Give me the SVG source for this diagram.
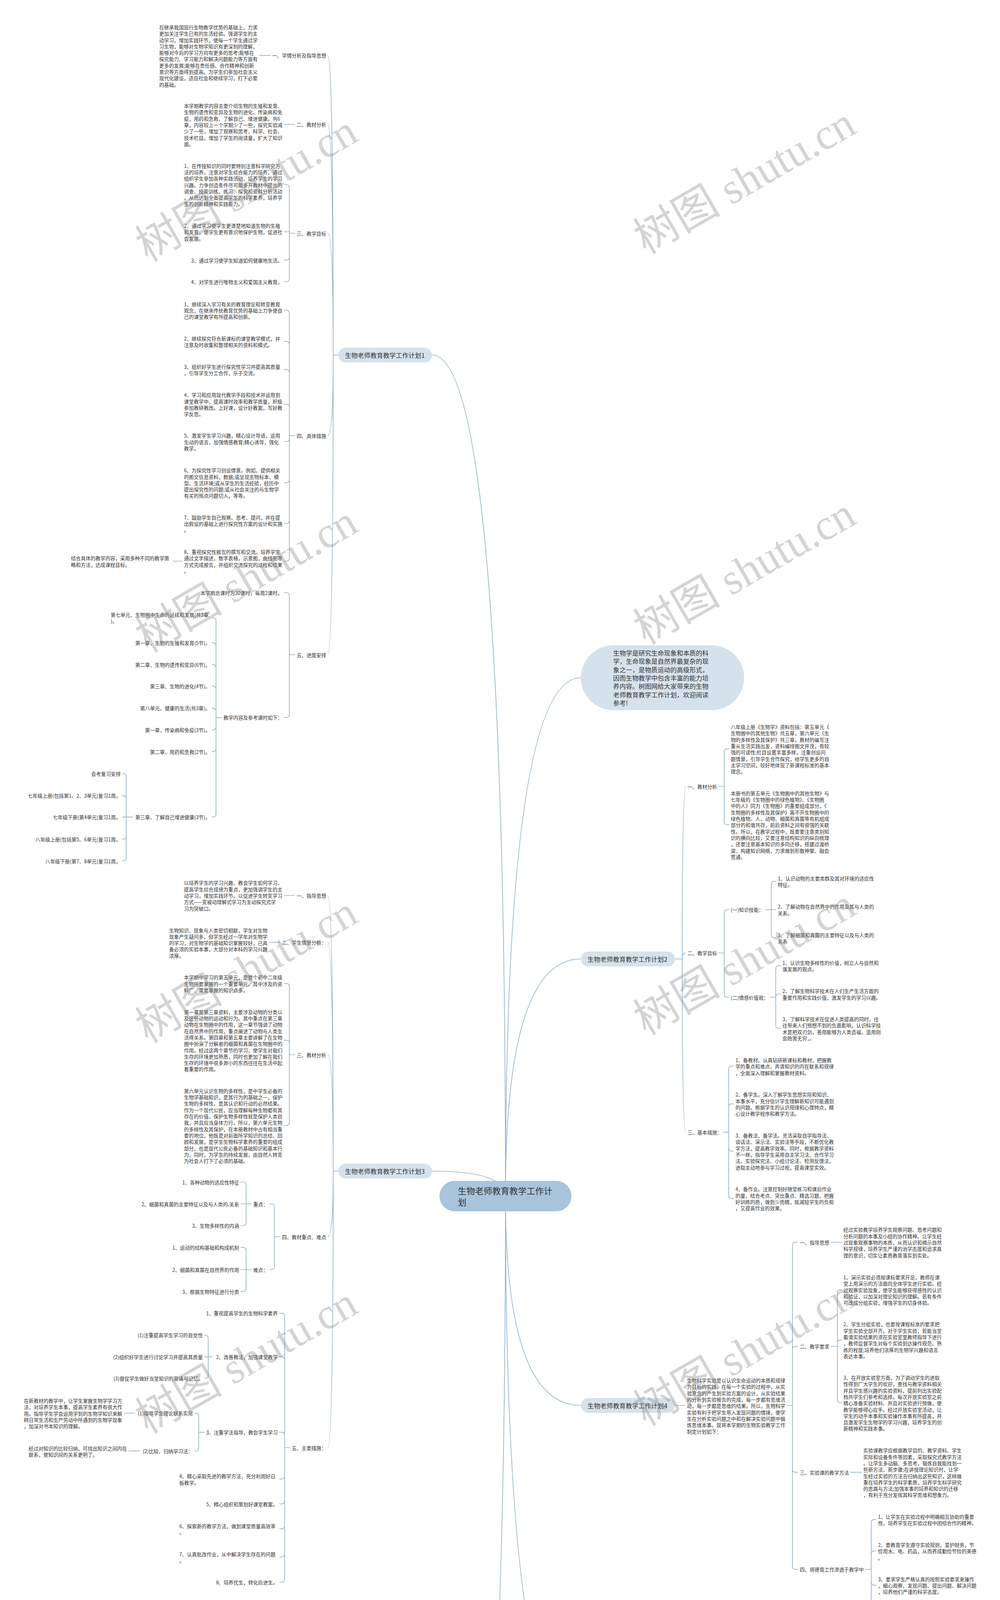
<svg xmlns="http://www.w3.org/2000/svg" width="2560" height="6561" viewBox="0 0 2560 6561">
<style>
.t{font-family:"Noto Sans CJK SC","Noto Sans",sans-serif;font-size:12.6px;fill:#333;dominant-baseline:central}
.e{text-anchor:end}
.l1{font-size:16.3px}
.rt{font-size:22px}
.c{fill:none;stroke:#8fb1cb;stroke-width:1.7}
.b{fill:#d6e2eb}
.rb{fill:#a9c4db}
.wm{font-family:"Liberation Serif","Noto Sans CJK SC",serif;font-size:112px;fill:#888;fill-opacity:.36;text-anchor:middle}
</style>
<rect x="0" y="0" width="2560" height="6561" fill="#fff"/>
<g id="connectors">
<path class="c" d="M1294 3062Q1294 909 1106 909M1294 3062Q1294 2998 1106 2998M1294 3062Q1294 5213 1106 5213M1294 3062Q1294 1735 1487 1735M1294 3062Q1294 2455 1487 2455M1294 3062Q1294 3598 1487 3598M1294 3062Q1294 4442 1487 4442"/>
<path class="c" d="M866 909H853M853 909Q853 141.8 839 141.8M853 909Q853 318.6 839 318.6M853 909Q853 597 839 597M853 909Q853 1115 839 1115M853 909Q853 1676 839 1676"/>
<path class="c" d="M693 141.8H664M755 318.6H727M756 597H740.7M740.7 597V480.5Q740.7 472.5 732.7 472.5H727M740.7 597V593.3H727M740.7 597V658Q740.7 666 732.7 666H727M740.7 597V713.5Q740.7 721.5 732.7 721.5H727"/>
<path class="c" d="M756 1115H740.7M740.7 1115V802.1Q740.7 794.1 732.7 794.1H727M740.7 1115V881.8Q740.7 873.8 732.7 873.8H727M740.7 1115V954.2Q740.7 946.2 732.7 946.2H727M740.7 1115V1042.8Q740.7 1034.8 732.7 1034.8H727M740.7 1115V1122.5Q740.7 1130.5 732.7 1130.5H727M740.7 1115V1227.8Q740.7 1235.8 732.7 1235.8H727M740.7 1115V1332Q740.7 1340 732.7 1340H727M740.7 1115V1428.5Q740.7 1436.5 732.7 1436.5H727M466 1436.5H442"/>
<path class="c" d="M756 1676H740.7M740.7 1676V1525Q740.7 1517 732.7 1517H727M740.7 1676V1828.8Q740.7 1836.8 732.7 1836.8H727M568 1836.8H553M553 1836.8V1589Q553 1581 545 1581H542M553 1836.8V1653Q553 1645 545 1645H542M553 1836.8V1709.4Q553 1701.4 545 1701.4H542M553 1836.8V1764.5Q553 1756.5 545 1756.5H542M553 1836.8V1820.7Q553 1812.7 545 1812.7H542M553 1836.8V1860.5Q553 1868.5 545 1868.5H542M553 1836.8V1916.3Q553 1924.3 545 1924.3H542M553 1836.8V2083.7Q553 2091.7 545 2091.7H542"/>
<path class="c" d="M341 2091.7H323M323 2091.7V1988Q323 1980 315 1980H313M323 2091.7V2044.8Q323 2036.8 315 2036.8H313M323 2091.7H313M323 2091.7V2140.4Q323 2148.4 315 2148.4H313M323 2091.7V2196Q323 2204 315 2204H313"/>
<path class="c" d="M866 2998H853M853 2998Q853 2292.5 839 2292.5M853 2998Q853 2412.4 839 2412.4M853 2998Q853 2700 839 2700M853 2998Q853 3166 839 3166M853 2998Q853 3706 839 3706"/>
<path class="c" d="M755 2292.5H727M718 2412.4H689M756 2700H740.7M740.7 2700V2525.6Q740.7 2517.6 732.7 2517.6H727M740.7 2700V2671Q740.7 2663 732.7 2663H727M740.7 2700V2873.5Q740.7 2881.5 732.7 2881.5H727"/>
<path class="c" d="M718 3166H702.6M702.6 3166V3090Q702.6 3082 694.6 3082H690M702.6 3166V3242Q702.6 3250 694.6 3250H690M644 3082H630M630 3082V3034Q630 3026 622 3026H616M630 3082H616M630 3082V3129.5Q630 3137.5 622 3137.5H616M644 3250H630M630 3250V3201.4Q630 3193.4 622 3193.4H616M630 3250H616M630 3250V3298.3Q630 3306.3 622 3306.3H616"/>
<path class="c" d="M743 3706H728.6M728.6 3706V3369.7Q728.6 3361.7 720.6 3361.7H715M728.6 3706V3481.3Q728.6 3473.3 720.6 3473.3H715M728.6 3706V3674.6Q728.6 3666.6 720.6 3666.6H715M728.6 3706V3778.4Q728.6 3786.4 720.6 3786.4H715M728.6 3706V3842Q728.6 3850 720.6 3850H715M728.6 3706V3905.9Q728.6 3913.9 720.6 3913.9H715M728.6 3706V3978Q728.6 3986 720.6 3986H715M728.6 3706V4042.5Q728.6 4050.5 720.6 4050.5H715"/>
<path class="c" d="M544 3473.3H533M533 3473.3V3425.9Q533 3417.9 525 3417.9H523M533 3473.3H523M533 3473.3V3520.8Q533 3528.8 525 3528.8H523M524 3666.6H508.7M508.7 3666.6V3625.5Q508.7 3617.5 500.7 3617.5H498M508.7 3666.6V3706.4Q508.7 3714.4 500.7 3714.4H498M346 3617.5H317M358 3714.4H329"/>
<path class="c" d="M866 5213H853M853 5213Q853 4132.1 839 4132.1M853 5213Q853 4548.3 839 4548.3M853 5213Q853 5111.2 839 5111.2M853 5213Q853 5430 839 5430M853 5213Q853 5912.6 839 5912.6M853 5213Q853 6296.5 839 6296.5"/>
<path class="c" d="M756 4548.3H740.7M740.7 4548.3V4227.2Q740.7 4219.2 732.7 4219.2H727M740.7 4548.3V4415.4Q740.7 4407.4 732.7 4407.4H727M740.7 4548.3V4659.6Q740.7 4667.6 732.7 4667.6H727M740.7 4548.3V4868.8Q740.7 4876.8 732.7 4876.8H727"/>
<path class="c" d="M657 4407.4H640.8M640.8 4407.4V4299.2Q640.8 4291.2 632.8 4291.2H629M640.8 4407.4V4379.3Q640.8 4371.3 632.8 4371.3H629M640.8 4407.4V4444.5Q640.8 4452.5 632.8 4452.5H629M640.8 4407.4V4516Q640.8 4524 632.8 4524H629M657 4667.6H640.8M640.8 4667.6V4596.5Q640.8 4588.5 632.8 4588.5H629M640.8 4667.6H629M640.8 4667.6V4740.6Q640.8 4748.6 632.8 4748.6H629M606 4876.8H591M591 4876.8V4820.9Q591 4812.9 583 4812.9H579M591 4876.8V4934Q591 4942 583 4942H579"/>
<path class="c" d="M756 5111.2H727M756 5430H740.7M740.7 5430V5240.1Q740.7 5232.1 732.7 5232.1H727M740.7 5430V5401.3Q740.7 5393.3 732.7 5393.3H727M740.7 5430V5620.5Q740.7 5628.5 732.7 5628.5H727"/>
<path class="c" d="M718 5912.6H705M705 5912.6V5837Q705 5829 697 5829H692M705 5912.6V5988.6Q705 5996.6 697 5996.6H692M644 5829H629.4M629.4 5829V5781Q629.4 5773 621.4 5773H616M629.4 5829H616M629.4 5829V5876.9Q629.4 5884.9 621.4 5884.9H616M644 5996.6H629.4M629.4 5996.6V5948.7Q629.4 5940.7 621.4 5940.7H616M629.4 5996.6H616M629.4 5996.6V6044.4Q629.4 6052.4 621.4 6052.4H616"/>
<path class="c" d="M756 6296.5H740.7M740.7 6296.5V6116.7Q740.7 6108.7 732.7 6108.7H727M740.7 6296.5V6172Q740.7 6164 732.7 6164H727M740.7 6296.5V6236.5Q740.7 6228.5 732.7 6228.5H727M740.7 6296.5V6300.3H727M740.7 6296.5V6356Q740.7 6364 732.7 6364H727M740.7 6296.5V6411.8Q740.7 6419.8 732.7 6419.8H727M740.7 6296.5V6475.8Q740.7 6483.8 732.7 6483.8H727"/>
<path class="c" d="M1728 2455H1746.5M1746.5 2455Q1746.5 2013 1756 2013M1746.5 2455Q1746.5 2439.5 1756 2439.5M1746.5 2455Q1746.5 2898.3 1756 2898.3"/>
<path class="c" d="M1839 2013H1854M1854 2013V1925.2Q1854 1917.2 1862 1917.2H1867M1854 2013V2103.3Q1854 2111.3 1862 2111.3H1867M1839 2439.5H1854M1854 2439.5V2336.7Q1854 2328.7 1862 2328.7H1867M1854 2439.5V2545Q1854 2553 1862 2553H1867"/>
<path class="c" d="M1958 2328.7H1974.5M1974.5 2328.7V2264.2Q1974.5 2256.2 1982.5 2256.2H1987M1974.5 2328.7H1987M1974.5 2328.7V2392.7Q1974.5 2400.7 1982.5 2400.7H1987M1971 2553H1985.8M1985.8 2553V2480.2Q1985.8 2472.2 1993.8 2472.2H1999M1985.8 2553V2552.5Q1985.8 2544.5 1993.8 2544.5H1999M1985.8 2553V2624.4Q1985.8 2632.4 1993.8 2632.4H1999"/>
<path class="c" d="M1851 2898.3H1865.4M1865.4 2898.3V2737.2Q1865.4 2729.2 1873.4 2729.2H1878M1865.4 2898.3V2833.8Q1865.4 2825.8 1873.4 2825.8H1878M1865.4 2898.3V2938.8Q1865.4 2946.8 1873.4 2946.8H1878M1865.4 2898.3V3059.8Q1865.4 3067.8 1873.4 3067.8H1878"/>
<path class="c" d="M1728 3598H1754M2014 3598H2028.7M2028.7 3598V3188Q2028.7 3180 2036.7 3180H2043M2028.7 3598V3454.6Q2028.7 3446.6 2036.7 3446.6H2043M2028.7 3598V3761.2Q2028.7 3769.2 2036.7 3769.2H2043M2028.7 3598V4009.6Q2028.7 4017.6 2036.7 4017.6H2043"/>
<path class="c" d="M2127 3180H2155M2127 3446.6H2143.8M2143.8 3446.6V3309.6Q2143.8 3301.6 2151.8 3301.6H2155M2143.8 3446.6V3438.2Q2143.8 3430.2 2151.8 3430.2H2155M2143.8 3446.6V3583.2Q2143.8 3591.2 2151.8 3591.2H2155M2177 3769.2H2206"/>
<path class="c" d="M2214 4017.6H2230.4M2230.4 4017.6V3897.9Q2230.4 3889.9 2238.4 3889.9H2243M2230.4 4017.6V3978.3Q2230.4 3970.3 2238.4 3970.3H2243M2230.4 4017.6V4050.1Q2230.4 4058.1 2238.4 4058.1H2243M2230.4 4017.6V4139.1Q2230.4 4147.1 2238.4 4147.1H2243"/>
<path class="c" d="M1798 4442H1812.7M1812.7 4442Q1812.7 4219 1825 4219M1812.7 4442Q1812.7 4274.8 1825 4274.8M1812.7 4442Q1812.7 4331 1825 4331M1812.7 4442Q1812.7 4386.6 1825 4386.6M1812.7 4442H1825M1812.7 4442Q1812.7 4498.5 1825 4498.5M1812.7 4442Q1812.7 4554 1825 4554M1812.7 4442Q1812.7 4609.6 1825 4609.6M1812.7 4442Q1812.7 4665.9 1825 4665.9"/>
</g>
<g id="root"><rect class="rb" x="1125" y="3023" width="338" height="78" rx="39"/><text class="t rt" x="1172" y="3047"><tspan x="1172">生物老师教育教学工作计</tspan><tspan x="1172" dy="29">划</tspan></text></g>
<g id="intro"><rect class="b" x="1487" y="1652" width="418" height="166" rx="83"/><text class="t l1" x="1569.6" y="1670.7"><tspan x="1569.6">生物学是研究生命现象和本质的科</tspan><tspan x="1569.6" dy="21.4">学，生命现象是自然界最复杂的现</tspan><tspan x="1569.6" dy="21.4">象之一，是物质运动的高级形式，</tspan><tspan x="1569.6" dy="21.4">因而生物教学中包含丰富的能力培</tspan><tspan x="1569.6" dy="21.4">养内容。树图网给大家带来的生物</tspan><tspan x="1569.6" dy="21.4">老师教育教学工作计划，欢迎阅读</tspan><tspan x="1569.6" dy="21.4">参考!</tspan></text></g>
<g id="plan1"><rect class="b" x="866" y="890" width="240" height="38" rx="19"/><text class="t l1" x="883" y="909">生物老师教育教学工作计划1</text></g>
<g id="p1s1"><text class="t e" x="835" y="141.8">一、学情分析及指导思想</text></g>
<g id="p1s1t"><text class="t" y="68.9"><tspan x="407.5">在继承我国现行生物教学优势的基础上，力求</tspan><tspan x="407.5" dy="16.3">更加关注学生已有的生活经验。强调学生的主</tspan><tspan x="407.5" dy="16.3">动学习，增加实践环节，使每一个学生通过学</tspan><tspan x="407.5" dy="16.3">习生物，能够对生物学知识有更深刻的理解，</tspan><tspan x="407.5" dy="16.3">能够对今后的学习方向有更多的思考;能够在</tspan><tspan x="407.5" dy="16.3">探究能力、学习能力和解决问题能力等方面有</tspan><tspan x="407.5" dy="16.3">更多的发展;能够在责任感、合作精神和创新</tspan><tspan x="407.5" dy="16.3">意识等方面得到提高。为学生们参加社会主义</tspan><tspan x="407.5" dy="16.3">现代化建设，适应社会和继续学习，打下必要</tspan><tspan x="407.5" dy="16.3">的基础。</tspan></text></g>
<g id="p1s2"><text class="t e" x="835" y="318.6">二、教材分析</text></g>
<g id="p1s2t"><text class="t" y="270"><tspan x="471">本学期教学内容主要介绍生物的生殖和发育、</tspan><tspan x="471" dy="16.3">生物的遗传和变异及生物的进化、传染病和免</tspan><tspan x="471" dy="16.3">疫，用药和急救、了解自己、增进健康。共6</tspan><tspan x="471" dy="16.3">章，内容较上一个学期少了一些，探究实验减</tspan><tspan x="471" dy="16.3">少了一些，增加了观察和思考，科学、社会、</tspan><tspan x="471" dy="16.3">技术栏目。增加了学生的阅读量，扩大了知识</tspan><tspan x="471" dy="16.3">面。</tspan></text></g>
<g id="p1s3"><text class="t e" x="835" y="597">三、教学目标</text></g>
<g id="p1s3a"><text class="t" y="423.6"><tspan x="471">1、在传授知识的同时要特别注意科学研究方</tspan><tspan x="471" dy="16.3">法的培养，注意对学生综合能力的培养，通过</tspan><tspan x="471" dy="16.3">组织学生参加各种实践活动，培养学生的学习</tspan><tspan x="471" dy="16.3">兴趣。力争创造条件尽可能多开教材中提出的</tspan><tspan x="471" dy="16.3">调查、技能训练、练习、探究和资料分析活动</tspan><tspan x="471" dy="16.3">。从而达到全面提高学生的科学素养，培养学</tspan><tspan x="471" dy="16.3">生的创新精神和实践能力。</tspan></text></g>
<g id="p1s3b"><text class="t" y="577"><tspan x="471">2、通过学习使学生更清楚地知道生物的生殖</tspan><tspan x="471" dy="16.3">和发育，使学生更有意识地保护生物，促进社</tspan><tspan x="471" dy="16.3">会发展。</tspan></text></g>
<g id="p1s3c"><text class="t e" x="723" y="666">3、通过学习使学生知道如何健康地生活。</text></g>
<g id="p1s3d"><text class="t e" x="723" y="721.5">4、对学生进行唯物主义和爱国主义教育。</text></g>
<g id="p1s4"><text class="t e" x="835" y="1115">四、具体措施</text></g>
<g id="p1s4a"><text class="t" y="777.8"><tspan x="471">1、继续深入学习有关的教育理论和转变教育</tspan><tspan x="471" dy="16.3">观念，在继承传统教育优势的基础上力争使自</tspan><tspan x="471" dy="16.3">己的课堂教学有所提高和创新。</tspan></text></g>
<g id="p1s4b"><text class="t" y="865.6"><tspan x="471">2、继续探究符合新课标的课堂教学模式，并</tspan><tspan x="471" dy="16.3">注意及时收集和整理相关的资料和模式。</tspan></text></g>
<g id="p1s4c"><text class="t" y="938"><tspan x="471">3、组织好学生进行探究性学习并提高其质量</tspan><tspan x="471" dy="16.3">，引导学生分工合作，乐于交流。</tspan></text></g>
<g id="p1s4d"><text class="t" y="1010.3"><tspan x="471">4、学习和应用现代教学手段和技术并运用到</tspan><tspan x="471" dy="16.3">课堂教学中，提高课时效率和教学质量，积极</tspan><tspan x="471" dy="16.3">参加教研教改。上好课，设计好教案，写好教</tspan><tspan x="471" dy="16.3">学反思。</tspan></text></g>
<g id="p1s4e"><text class="t" y="1114.2"><tspan x="471">5、激发学生学习兴趣，精心设计导语，运用</tspan><tspan x="471" dy="16.3">生动的语言，加强情感教育;精心诱导，强化</tspan><tspan x="471" dy="16.3">教学。</tspan></text></g>
<g id="p1s4f"><text class="t" y="1203.2"><tspan x="471">6、为探究性学习创设情景。例如，提供相关</tspan><tspan x="471" dy="16.3">的图文信息资料，数据;或呈现生物标本、模</tspan><tspan x="471" dy="16.3">型、生活环境;或从学生的生活经验，经历中</tspan><tspan x="471" dy="16.3">提出探究性的问题;或从社会关注的与生物学</tspan><tspan x="471" dy="16.3">有关的热点问题切入，等等。</tspan></text></g>
<g id="p1s4g"><text class="t" y="1323.7"><tspan x="471">7、鼓励学生自己观察、思考、提问，并在提</tspan><tspan x="471" dy="16.3">出假设的基础上进行探究性方案的设计和实施</tspan><tspan x="471" dy="16.3">。</tspan></text></g>
<g id="p1s4h"><text class="t" y="1412"><tspan x="471">8、重视探究性报告的撰写和交流。培养学生</tspan><tspan x="471" dy="16.3">通过文字描述，数字表格，示意图，曲线图等</tspan><tspan x="471" dy="16.3">方式完成报告，并组织交流探究的过程和结果</tspan><tspan x="471" dy="16.3">。</tspan></text></g>
<g id="p1s4h1"><text class="t" y="1428.2"><tspan x="181.5">结合具体的教学内容，采用多种不同的教学策</tspan><tspan x="181.5" dy="16.3">略和方法，达成课程目标。</tspan></text></g>
<g id="p1s5"><text class="t e" x="835" y="1676">五、进度安排</text></g>
<g id="p1s5a"><text class="t e" x="723" y="1517">本学期总课时为30课时，每周2课时。</text></g>
<g id="p1s5b"><text class="t e" x="723" y="1836.8">教学内容及参考课时如下：</text></g>
<g id="p1s5b1"><text class="t" y="1572.8"><tspan x="283.3">第七单元、生物圈中生命的延续和发展(共3章</tspan><tspan x="283.3" dy="16.3">)。</tspan></text></g>
<g id="p1s5b2"><text class="t e" x="538" y="1645">第一章、生物的生殖和发育(5节)。</text></g>
<g id="p1s5b3"><text class="t e" x="538" y="1701.4">第二章、生物的遗传和变异(6节)。</text></g>
<g id="p1s5b4"><text class="t e" x="538" y="1756.5">第三章、生物的进化(4节)。</text></g>
<g id="p1s5b5"><text class="t e" x="538" y="1812.7">第八单元、健康的生活(共3章)。</text></g>
<g id="p1s5b6"><text class="t e" x="538" y="1868.5">第一章、传染病和免疫(3节)。</text></g>
<g id="p1s5b7"><text class="t e" x="538" y="1924.3">第二章、用药和急救(2节)。</text></g>
<g id="p1s5b8"><text class="t e" x="538" y="2091.7">第三章、了解自己增进健康(3节)。</text></g>
<g id="p1s5c1"><text class="t e" x="309" y="1980">会考复习安排</text></g>
<g id="p1s5c2"><text class="t e" x="309" y="2036.8">七年级上册(包括第1、2、3单元)复习1周。</text></g>
<g id="p1s5c3"><text class="t e" x="309" y="2091.7">七年级下册(第4单元)复习1周。</text></g>
<g id="p1s5c4"><text class="t e" x="309" y="2148.4">八年级上册(包括第5、6单元)复习1周。</text></g>
<g id="p1s5c5"><text class="t e" x="309" y="2204">八年级下册(第7、8单元)复习1周。</text></g>
<g id="plan3"><rect class="b" x="866" y="2979" width="240" height="38" rx="19"/><text class="t l1" x="883" y="2998">生物老师教育教学工作计划3</text></g>
<g id="p3s1"><text class="t e" x="835" y="2292.5">一、指导思想</text></g>
<g id="p3s1t"><text class="t" y="2259.3"><tspan x="471">以培养学生的学习兴趣、教会学生如何学习、</tspan><tspan x="471" dy="16.3">提高学生综合成绩为重点，更加强调学生的主</tspan><tspan x="471" dy="16.3">动学习，增加实践环节。以促进学生转变学习</tspan><tspan x="471" dy="16.3">方式——变被动理解式学习为主动探究式学</tspan><tspan x="471" dy="16.3">习为突破口。</tspan></text></g>
<g id="p3s2"><text class="t e" x="835" y="2412.4">二、学生情景分析：</text></g>
<g id="p3s2t"><text class="t" y="2380.5"><tspan x="433">生物知识、现象与人类密切相联，学生对生物</tspan><tspan x="433" dy="16.3">现象产生疑问多，但学生经过一学年对生物学</tspan><tspan x="433" dy="16.3">的学习，对生物学的基础知识掌握较好，已具</tspan><tspan x="433" dy="16.3">备必须的实验本事，大部分对本科的学习兴趣</tspan><tspan x="433" dy="16.3">浓厚。</tspan></text></g>
<g id="p3s3"><text class="t e" x="835" y="2700">三、教材分析</text></g>
<g id="p3s3a"><text class="t" y="2501.3"><tspan x="471">本学期中学习的第五单元，是整个初中二年级</tspan><tspan x="471" dy="16.3">生物所要掌握的一个重要单元。其中涉及的资</tspan><tspan x="471" dy="16.3">料广，需要掌握的知识点多。</tspan></text></g>
<g id="p3s3b"><text class="t" y="2589.7"><tspan x="471">第一章至第三章资料，主要涉及动物的分类以</tspan><tspan x="471" dy="16.3">及这些动物的运动和行为。其中重点在第三章</tspan><tspan x="471" dy="16.3">动物在生物圈中的作用，这一章节强调了动物</tspan><tspan x="471" dy="16.3">在自然界中的作用，重点阐述了动物与人类生</tspan><tspan x="471" dy="16.3">活得关系。第四章和第五章主要讲解了在生物</tspan><tspan x="471" dy="16.3">圈中扮演了分解者的细菌和真菌在生物圈中的</tspan><tspan x="471" dy="16.3">作用。经过这两个章节的学习，使学生对我们</tspan><tspan x="471" dy="16.3">生存的环境更加熟悉，同时也更加了解在我们</tspan><tspan x="471" dy="16.3">生存的环境中很多渺小的东西往往在生活中起</tspan><tspan x="471" dy="16.3">着重要的作用。</tspan></text></g>
<g id="p3s3c"><text class="t" y="2791.8"><tspan x="471">第六单元认识生物的多样性，是中学生必备的</tspan><tspan x="471" dy="16.3">生物学基础知识，是其行为的基础之一，保护</tspan><tspan x="471" dy="16.3">生物的多样性，是其认识和行动的必然结果。</tspan><tspan x="471" dy="16.3">作为一个现代公民，应当理解每种生物都有其</tspan><tspan x="471" dy="16.3">存在的价值，保护生物多样性就是保护人类自</tspan><tspan x="471" dy="16.3">我，并且应当身体力行。所以，第六单元生物</tspan><tspan x="471" dy="16.3">的多样性及其保护，在本册教材中占有相当重</tspan><tspan x="471" dy="16.3">要的地位，他既是对前面所学知识的总结、回</tspan><tspan x="471" dy="16.3">顾和发展，是学生生物科学素养的重要的组成</tspan><tspan x="471" dy="16.3">部分，也是现代公民必备的基础知识和基本行</tspan><tspan x="471" dy="16.3">为，同时，为学生的持续发展，由自然人转变</tspan><tspan x="471" dy="16.3">为社会人打下了必须的基础。</tspan></text></g>
<g id="p3s4"><text class="t e" x="835" y="3166">四、教材重点、难点</text></g>
<g id="p3s4a"><text class="t e" x="686" y="3082">重点：</text></g>
<g id="p3s4a1"><text class="t e" x="612" y="3026">1、各种动物的适应性特征</text></g>
<g id="p3s4a2"><text class="t e" x="612" y="3082">2、细菌和真菌的主要特征以及与人类的.关系</text></g>
<g id="p3s4a3"><text class="t e" x="612" y="3137.5">3、生物多样性的内涵</text></g>
<g id="p3s4b"><text class="t e" x="686" y="3250">难点：</text></g>
<g id="p3s4b1"><text class="t e" x="612" y="3193.4">1、运动的结构基础和构成机制</text></g>
<g id="p3s4b2"><text class="t e" x="612" y="3250">2、细菌和真菌在自然界的作用</text></g>
<g id="p3s4b3"><text class="t e" x="612" y="3306.3">3、根据生物特征进行分类</text></g>
<g id="p3s5"><text class="t e" x="835" y="3706">五、主要措施：</text></g>
<g id="p3s5a"><text class="t e" x="711" y="3361.7">1、重视提高学生的生物科学素养</text></g>
<g id="p3s5b"><text class="t e" x="711" y="3473.3">2、改善教法，加强课堂教学</text></g>
<g id="p3s5b1"><text class="t e" x="519" y="3417.9">(1)注重提高学生学习的自觉性</text></g>
<g id="p3s5b2"><text class="t e" x="519" y="3473.3">(2)组织好学生进行讨论学习并提高其质量</text></g>
<g id="p3s5b3"><text class="t e" x="520" y="3528.8">(3)督促学生做好当堂知识的背诵与记忆。</text></g>
<g id="p3s5c"><text class="t e" x="711" y="3666.6">3、注重学法指导，教会学生学习</text></g>
<g id="p3s5c1"><text class="t e" x="494" y="3617.5">(1)指导学生理论联系实际</text></g>
<g id="p3s5c1t"><text class="t" y="3585"><tspan x="61">在新教材的教学中，让学生掌握生物学学习方</tspan><tspan x="61" dy="16.3">法，对培养学生本事，提高学生素养有很大作</tspan><tspan x="61" dy="16.3">用。指导学生学会运用学到的生物学知识来解</tspan><tspan x="61" dy="16.3">释日常生活和生产劳动中所遇到的生物学现象</tspan><tspan x="61" dy="16.3">，加深对书本知识的理解。</tspan></text></g>
<g id="p3s5c2"><text class="t e" x="494" y="3714.4">(2)比较、归纳学习法：</text></g>
<g id="p3s5c2t"><text class="t" y="3706.7"><tspan x="73.3">经过对知识的比较归纳，可找出知识之间内在</tspan><tspan x="73.3" dy="16.3">联系，使知识间的关系更明了。</tspan></text></g>
<g id="p3s5d"><text class="t" y="3778.2"><tspan x="459">4、精心采取先进的教学方法，充分利用好白</tspan><tspan x="459" dy="16.3">板教学。</tspan></text></g>
<g id="p3s5e"><text class="t e" x="711" y="3850">5、精心组织和策划好课堂教案。</text></g>
<g id="p3s5f"><text class="t" y="3905.7"><tspan x="459">6、探索新的教学方法，做到课堂质量高效率</tspan><tspan x="459" dy="16.3">。</tspan></text></g>
<g id="p3s5g"><text class="t" y="3977.8"><tspan x="459">7、认真批改作业，从中解决学生存在的问题</tspan><tspan x="459" dy="16.3">。</tspan></text></g>
<g id="p3s5h"><text class="t e" x="711" y="4050.5">8、培养优生，转化后进生。</text></g>
<g id="plan5"><rect class="b" x="866" y="5194" width="240" height="38" rx="19"/><text class="t l1" x="883" y="5213">生物老师教育教学工作计划5</text></g>
<g id="p5s0"><text class="t" y="4107.7"><tspan x="583.2">又是一个新学期的开始，这个学期我担任初二</tspan><tspan x="583.2" dy="16.3">两个班的生物教学任务，为顺利完成本学期的</tspan><tspan x="583.2" dy="16.3">教学工作，并取得良好的成绩，我根据初二年</tspan><tspan x="583.2" dy="16.3">级生物学科的特点，特制订计划如下</tspan></text></g>
<g id="p5s1"><text class="t e" x="835" y="4548.3">一、教学目标</text></g>
<g id="p5s1a"><text class="t" y="4211"><tspan x="471">经过本学期的学习，学生将在以下几方面得到</tspan><tspan x="471" dy="16.3">发展：</tspan></text></g>
<g id="p5s1b"><text class="t e" x="723" y="4407.4">知识目标：</text></g>
<g id="p5s1b1"><text class="t" y="4283"><tspan x="371">(1)认识动物的主要类群及其对环境的适应性</tspan><tspan x="371" dy="16.3">特征。</tspan></text></g>
<g id="p5s1b2"><text class="t" y="4355"><tspan x="371">(2)明白动物的行为大多是经过运动来完成的</tspan><tspan x="371" dy="16.3">，了解动物在自然界中的作用及其与人类的关</tspan><tspan x="371" dy="16.3">系，它们的行为有密切的联系。</tspan></text></g>
<g id="p5s1b3"><text class="t" y="4444.4"><tspan x="371">(3)获得关于细菌和真菌的主要特征以及与人</tspan><tspan x="371" dy="16.3">类的关系的知识。</tspan></text></g>
<g id="p5s1b4"><text class="t" y="4515.8"><tspan x="371">(4)经过活动体验生物的分类是根据不一样生</tspan><tspan x="371" dy="16.3">物的特征上的相似程度来进行的。</tspan></text></g>
<g id="p5s1c"><text class="t e" x="723" y="4667.6">本事目标：</text></g>
<g id="p5s1c1"><text class="t e" x="626" y="4588.5">(1)增强动手本事和实验设计本事。</text></g>
<g id="p5s1c2"><text class="t" y="4643.4"><tspan x="372.4">(2)培养学生的实践本事：如进行"饲养和观察</tspan><tspan x="372.4" dy="16.3">蚯蚓"、"调查动物在人们生活中的作用"、"检</tspan><tspan x="372.4" dy="16.3">测不一样环境中的细菌和真菌"、"制作甜酒"</tspan><tspan x="372.4" dy="16.3">等实践性较强的活动。</tspan></text></g>
<g id="p5s1c3"><text class="t e" x="626" y="4748.6">(3)培养学生收集和处理信息的本事。</text></g>
<g id="p5s1d"><text class="t e" x="723" y="4876.8">情感态度与价值观：</text></g>
<g id="p5s1d1"><text class="t" y="4804.7"><tspan x="322.7">(1)认识生物多样性的价值，更好地树立人与</tspan><tspan x="322.7" dy="16.3">自然和谐发展的观点。</tspan></text></g>
<g id="p5s1d2"><text class="t" y="4876.8"><tspan x="321.5">(2)认识科学经过技术转化为人们改善生产和</tspan><tspan x="321.5" dy="16.3">生活方式的手段，发展生产力，促进社会物质</tspan><tspan x="321.5" dy="16.3">礼貌的提高，又具有实践价值。科学技术在促</tspan><tspan x="321.5" dy="16.3">进人类提高的同时，往往带来人们预想不到的</tspan><tspan x="321.5" dy="16.3">负面影响，所以，其实践价值就相当于一枚硬</tspan><tspan x="321.5" dy="16.3">币的正反两面，具有两面性。此外，尽管社会</tspan><tspan x="321.5" dy="16.3">在走向科技化，科技也在社会化，可是，科学</tspan><tspan x="321.5" dy="16.3">始终不是万能的，人类社会面临的所有问题，</tspan><tspan x="321.5" dy="16.3">并非都能依_科学来解决。</tspan></text></g>
<g id="p5s2"><text class="t e" x="835" y="5111.2">二、学情分析</text></g>
<g id="p5s2t"><text class="t" y="5062.8"><tspan x="471">经过初一的学习，多数学生对生物这门课比较</tspan><tspan x="471" dy="16.3">有兴趣，其中也存在着问题：班中成绩差别悬</tspan><tspan x="471" dy="16.3">殊，存在两极分化现象，有的班级后进生比较</tspan><tspan x="471" dy="16.3">多。针对以上问题，我要对学生加以鼓励和引</tspan><tspan x="471" dy="16.3">导，争取再上一个新台阶，以期待能取得更好</tspan><tspan x="471" dy="16.3">的成绩，做好学生的工作，因材施教，使他们</tspan><tspan x="471" dy="16.3">在各自原有的基础上不断发展提高。</tspan></text></g>
<g id="p5s3"><text class="t e" x="835" y="5430">三、教材分析</text></g>
<g id="p5s3a"><text class="t" y="5215.8"><tspan x="471">本学期中学习的第五单元，是整个初中二年级</tspan><tspan x="471" dy="16.3">生物所要掌握的一个重要单元。其中涉及的资</tspan><tspan x="471" dy="16.3">料广，需要掌握的知识点多。</tspan></text></g>
<g id="p5s3b"><text class="t" y="5303.6"><tspan x="471">第一章至第三章资料，主要涉及动物的分类，</tspan><tspan x="471" dy="16.3">让学生区别那些是水中生活的动物、陆地上生</tspan><tspan x="471" dy="16.3">活的动物、空中飞行的动物，以及这些动物的</tspan><tspan x="471" dy="16.3">运动和行为。其中重点在第三章动物在生物圈</tspan><tspan x="471" dy="16.3">中的作用，这一章节强调了动物在自然界中的</tspan><tspan x="471" dy="16.3">作用，重点阐述了动物与人类生活得关系。第</tspan><tspan x="471" dy="16.3">四章和第五章主要讲解了在生物圈中扮演了分</tspan><tspan x="471" dy="16.3">解者的细菌和真菌在生物圈中的作用。经过这</tspan><tspan x="471" dy="16.3">两个章节的学习，使学生对我们生存的环境更</tspan><tspan x="471" dy="16.3">加熟悉，同时也更加了解在我们生存的环境中</tspan><tspan x="471" dy="16.3">很多渺小的东西往往在生活中起着重要的作用</tspan><tspan x="471" dy="16.3">。</tspan></text></g>
<g id="p5s3c"><text class="t" y="5538.8"><tspan x="471">第六单元认识生物的多样性，是中学生必备的</tspan><tspan x="471" dy="16.3">生物学基础知识，是其行为的基础之一，保护</tspan><tspan x="471" dy="16.3">生物的多样性，是其认识和行动的必然结果。</tspan><tspan x="471" dy="16.3">作为一个现代公民，应当理解每种生物都有其</tspan><tspan x="471" dy="16.3">存在的价值，保护生物多样性就是保护人类自</tspan><tspan x="471" dy="16.3">我，并且应当身体力行。所以，第六单元生物</tspan><tspan x="471" dy="16.3">的多样性及其保护，在本册教材中占有相当重</tspan><tspan x="471" dy="16.3">要的地位，他既是对前面所学知识的总结、回</tspan><tspan x="471" dy="16.3">顾和发展，是学生生物科学素养的重要的组成</tspan><tspan x="471" dy="16.3">部分，也是现代公民必备的基础知识和基本行</tspan><tspan x="471" dy="16.3">为，同时，为学生的持续发展，由自然人转变</tspan><tspan x="471" dy="16.3">为社会人打下了必须的基础。</tspan></text></g>
<g id="p5s4"><text class="t e" x="835" y="5912.6">四、教材重点、难点</text></g>
<g id="p5s4a"><text class="t e" x="686" y="5829">重点：</text></g>
<g id="p5s4a1"><text class="t e" x="612" y="5773">1、各种动物的适应性特征</text></g>
<g id="p5s4a2"><text class="t e" x="612" y="5829">2、细菌和真菌的主要特征以及与人类的关系</text></g>
<g id="p5s4a3"><text class="t e" x="612" y="5884.9">3、生物多样性的内涵</text></g>
<g id="p5s4b"><text class="t e" x="686" y="5996.6">难点：</text></g>
<g id="p5s4b1"><text class="t e" x="612" y="5940.7">1、运动的结构基础和构成机制</text></g>
<g id="p5s4b2"><text class="t e" x="612" y="5996.6">2、细菌和真菌在自然界的作用</text></g>
<g id="p5s4b3"><text class="t e" x="612" y="6052.4">3、根据生物特征进行分类</text></g>
<g id="p5s5"><text class="t e" x="835" y="6296.5">五、教学措施</text></g>
<g id="p5s5a"><text class="t e" x="723" y="6108.7">1、认真钻研教村和新课程标准。</text></g>
<g id="p5s5b"><text class="t e" x="723" y="6164">2、转变传统的教育教学观念。</text></g>
<g id="p5s5c"><text class="t" y="6220.3"><tspan x="471">3、优化教学方法，运用好现代化的教学手段</tspan><tspan x="471" dy="16.3">。</tspan></text></g>
<g id="p5s5d"><text class="t" y="6292.1"><tspan x="471">4、认真组织好各次探究活动，注重学法指导</tspan><tspan x="471" dy="16.3">。</tspan></text></g>
<g id="p5s5e"><text class="t e" x="723" y="6364">5、认真做好培优辅差工作，面向全体学生。</text></g>
<g id="p5s5f"><text class="t e" x="723" y="6419.8">6、加强训练，到达及时巩固的目的。</text></g>
<g id="p5s5g"><text class="t" y="6475.6"><tspan x="471">7、成立好合作学习小组，并加强合作学习指</tspan><tspan x="471" dy="16.3">导。</tspan></text></g>
<g id="plan2"><rect class="b" x="1487" y="2436" width="241" height="38" rx="19"/><text class="t l1" x="1504" y="2455">生物老师教育教学工作计划2</text></g>
<g id="p2s1"><text class="t" x="1760" y="2013">一、教材分析</text></g>
<g id="p2s1a"><text class="t" y="1860.1"><tspan x="1870.7">八年级上册《生物学》资料包括：第五单元《</tspan><tspan x="1870.7" dy="16.3">生物圈中的其他生物》共五章，第六单元《生</tspan><tspan x="1870.7" dy="16.3">物的多样性及其保护》共三章。教材的编写注</tspan><tspan x="1870.7" dy="16.3">重从生活实践出发，资料编排图文并茂，有较</tspan><tspan x="1870.7" dy="16.3">强的可读性;栏目设置丰富多样，注重创设问</tspan><tspan x="1870.7" dy="16.3">题情景，引导学生合作探究，给学生更多的自</tspan><tspan x="1870.7" dy="16.3">主学习空间，较好地体现了新课程标准的基本</tspan><tspan x="1870.7" dy="16.3">理念。</tspan></text></g>
<g id="p2s1b"><text class="t" y="2029.8"><tspan x="1870.7">本册书的第五单元《生物圈中的其他生物》与</tspan><tspan x="1870.7" dy="16.3">七年级的《生物圈中的绿色植物》、《生物圈</tspan><tspan x="1870.7" dy="16.3">中的人》同为《生物圈》的重要组成部分，《</tspan><tspan x="1870.7" dy="16.3">生物圈的多样性及其保护》离不开生物圈中的</tspan><tspan x="1870.7" dy="16.3">绿色植物、人、动物、细菌和真菌等有机组成</tspan><tspan x="1870.7" dy="16.3">部分的和谐共存，前后资料之间有很强的关联</tspan><tspan x="1870.7" dy="16.3">性。所以，在教学过程中，既要要注意类别知</tspan><tspan x="1870.7" dy="16.3">识的横向比较，又要注意结构知识的纵向梳理</tspan><tspan x="1870.7" dy="16.3">，还要注意基本知识的多向迁移，搭建过渡桥</tspan><tspan x="1870.7" dy="16.3">梁、构建知识网络，力求做到形散神聚、融会</tspan><tspan x="1870.7" dy="16.3">贯通。</tspan></text></g>
<g id="p2s2"><text class="t" x="1760" y="2439.5">二、教学目标</text></g>
<g id="p2s2a"><text class="t" x="1870.7" y="2328.7">(一)知识技能：</text></g>
<g id="p2s2a1"><text class="t" y="2248"><tspan x="1991">1、认识动物的主要类群及其对环境的适应性</tspan><tspan x="1991" dy="16.3">特征。</tspan></text></g>
<g id="p2s2a2"><text class="t" y="2320.4"><tspan x="1991">2、了解动物在自然界中的作用及其与人类的</tspan><tspan x="1991" dy="16.3">关系。</tspan></text></g>
<g id="p2s2a3"><text class="t" y="2392.5"><tspan x="1991">3、了解细菌和真菌的主要特征以及与人类的</tspan><tspan x="1991" dy="16.3">关系</tspan></text></g>
<g id="p2s2b"><text class="t" x="1870.7" y="2553">(二)情感价值观：</text></g>
<g id="p2s2b1"><text class="t" y="2464"><tspan x="2003">1、认识生物多样性的价值，树立人与自然和</tspan><tspan x="2003" dy="16.3">谐发展的观点。</tspan></text></g>
<g id="p2s2b2"><text class="t" y="2536.3"><tspan x="2003">2、了解生物科学技术在人们生产生活方面的</tspan><tspan x="2003" dy="16.3">重要作用和实践价值，激发学生的学习兴趣。</tspan></text></g>
<g id="p2s2b3"><text class="t" y="2607.9"><tspan x="2003">3、了解科学技术在促进人类提高的同时，往</tspan><tspan x="2003" dy="16.3">往带来人们预想不到的负面影响，认识科学技</tspan><tspan x="2003" dy="16.3">术是把双刃剑，善用能够为人类造福，滥用则</tspan><tspan x="2003" dy="16.3">会贻害无穷，。</tspan></text></g>
<g id="p2s3"><text class="t" x="1760" y="2898.3">三、基本措施：</text></g>
<g id="p2s3a"><text class="t" y="2712.9"><tspan x="1882.7">1、备教材。认真钻研新课标和教材，把握教</tspan><tspan x="1882.7" dy="16.3">学的重点和难点，弄清知识的内在联系和规律</tspan><tspan x="1882.7" dy="16.3">，全面深入理解和掌握教材资料。</tspan></text></g>
<g id="p2s3b"><text class="t" y="2801.3"><tspan x="1882.7">2、备学生。深入了解学生思想实际和知识、</tspan><tspan x="1882.7" dy="16.3">本事水平，充分估计学生理解新知识可能遇到</tspan><tspan x="1882.7" dy="16.3">的问题。根据学生的认识规律和心理特点，精</tspan><tspan x="1882.7" dy="16.3">心设计教学程序和教学方法。</tspan></text></g>
<g id="p2s3c"><text class="t" y="2906"><tspan x="1882.7">3、备教法、备学法。灵活采取自学指导法、</tspan><tspan x="1882.7" dy="16.3">谈话法、演示法、实验法等手段，不断优化教</tspan><tspan x="1882.7" dy="16.3">学方法，提高教学效率。同时，根据教学资料</tspan><tspan x="1882.7" dy="16.3">不一样，指导学生采用自主学习法、合作学习</tspan><tspan x="1882.7" dy="16.3">法、实验探究法、小组讨论法、检测反馈法，</tspan><tspan x="1882.7" dy="16.3">进取主动地参与学习过程，提高课堂实效。</tspan></text></g>
<g id="p2s3d"><text class="t" y="3043.3"><tspan x="1882.7">4、备作业。注意控制好随堂练习和课后作业</tspan><tspan x="1882.7" dy="16.3">的量，结合考点、突出重点、精选习题，把握</tspan><tspan x="1882.7" dy="16.3">好训练的质，做到少而精，既减轻学生的负担</tspan><tspan x="1882.7" dy="16.3">，又提高作业的效果。</tspan></text></g>
<g id="plan4"><rect class="b" x="1487" y="3579" width="241" height="38" rx="19"/><text class="t l1" x="1504" y="3598">生物老师教育教学工作计划4</text></g>
<g id="p4s0"><text class="t" y="3533.1"><tspan x="1758.5">生物科学实验是以认识生命运动的本质和规律</tspan><tspan x="1758.5" dy="16.3">为目标的实践。在每一个实验的过程中，从实</tspan><tspan x="1758.5" dy="16.3">验意念的产生到实验方案的设计，从实验结果</tspan><tspan x="1758.5" dy="16.3">的分析到实验报告的完成，每一步都有思维活</tspan><tspan x="1758.5" dy="16.3">动，每一步都是思维的结果。所以，生物科学</tspan><tspan x="1758.5" dy="16.3">实验有利于把学生带入发现问题的情境，使学</tspan><tspan x="1758.5" dy="16.3">生在分析实验问题之中和在解决实验问题中锻</tspan><tspan x="1758.5" dy="16.3">炼思维本事。现将本学期的生物实验教学工作</tspan><tspan x="1758.5" dy="16.3">制定计划如下：</tspan></text></g>
<g id="p4s1"><text class="t" x="2047.5" y="3180">一、指导思想</text></g>
<g id="p4s1t"><text class="t" y="3147.4"><tspan x="2159">经过实验教学培养学生观察问题、思考问题和</tspan><tspan x="2159" dy="16.3">分析问题的本事及小组的协作精神。让学生经</tspan><tspan x="2159" dy="16.3">过现象观察事物的本质，从而认识和揭示自然</tspan><tspan x="2159" dy="16.3">科学规律，培养学生严谨的治学态度和追求真</tspan><tspan x="2159" dy="16.3">理的意识，切实让素质教育落实到实处。</tspan></text></g>
<g id="p4s2"><text class="t" x="2047.5" y="3446.6">二、教学要求</text></g>
<g id="p4s2a"><text class="t" y="3269"><tspan x="2159">1、演示实验必须按课标要求开足，教师在课</tspan><tspan x="2159" dy="16.3">堂上用演示的方法面向全体学生进行实验。经</tspan><tspan x="2159" dy="16.3">过观察实验现象，使学生能够获得感性的认识</tspan><tspan x="2159" dy="16.3">和验证，以加深对理论知识的理解。若有条件</tspan><tspan x="2159" dy="16.3">可改成分组实验，增强学生的切身体验。</tspan></text></g>
<g id="p4s2b"><text class="t" y="3389.4"><tspan x="2159">2、学生分组实验，也要按课程标准的要求把</tspan><tspan x="2159" dy="16.3">学生实验全部开齐。对于学生实验，若能当堂</tspan><tspan x="2159" dy="16.3">看清实验结果的须在实验室里教师指导下进行</tspan><tspan x="2159" dy="16.3">，教师监督学生对每个实验到达操作规范、熟</tspan><tspan x="2159" dy="16.3">练的程度;培养他们浓厚的生物学兴趣和语言</tspan><tspan x="2159" dy="16.3">表达本事。</tspan></text></g>
<g id="p4s2c"><text class="t" y="3526"><tspan x="2159">3、在开放实验室方面，为了调动学生的进取</tspan><tspan x="2159" dy="16.3">性得到广大学生的欢迎，查找与教学资料相关</tspan><tspan x="2159" dy="16.3">并且学生感兴趣的实验资料，提前列出实验配</tspan><tspan x="2159" dy="16.3">档共学生们参考和选择。每次开放实验室之前</tspan><tspan x="2159" dy="16.3">精心准备实验材料、并且对实验进行预做，使</tspan><tspan x="2159" dy="16.3">教学能够得心应手。经过开放实验室活动，让</tspan><tspan x="2159" dy="16.3">学生的动手本事和实验操作本事有所提高，并</tspan><tspan x="2159" dy="16.3">且激发学生生物学的学习兴趣，培养学生的创</tspan><tspan x="2159" dy="16.3">新精神和实践本事。</tspan></text></g>
<g id="p4s3"><text class="t" x="2047.5" y="3769.2">三、实验课的教学方法</text></g>
<g id="p4s3t"><text class="t" y="3712.3"><tspan x="2210">实验课教学应根据教学目的、教学资料、学生</tspan><tspan x="2210" dy="16.3">实际和设备条件等因素，采取探究式教学方法</tspan><tspan x="2210" dy="16.3">。让学生多动脑、多思考，锻炼自我能找到一</tspan><tspan x="2210" dy="16.3">些新方法、新步骤;在讲授理论知识时，让学</tspan><tspan x="2210" dy="16.3">生经过实验的方法去归纳出这些知识，这样做</tspan><tspan x="2210" dy="16.3">重在培养学生的科学素质，培养学生科学研究</tspan><tspan x="2210" dy="16.3">的思路与方法;加强本事的培养和知识的迁移</tspan><tspan x="2210" dy="16.3">，有利于充分发挥其科学思维和想象力。</tspan></text></g>
<g id="p4s4"><text class="t" x="2047.5" y="4017.6">四、将德育工作渗透于教学中</text></g>
<g id="p4s4a"><text class="t" y="3881.7"><tspan x="2247.7">1、让学生在实验过程中明确相互协助的重要</tspan><tspan x="2247.7" dy="16.3">性，培养学生在实验过程中团结合作的精神。</tspan></text></g>
<g id="p4s4b"><text class="t" y="3954"><tspan x="2247.7">2、要教育学生遵守实验规则，爱护财务，节</tspan><tspan x="2247.7" dy="16.3">俭用水、电、药品，从而养成勤俭节俭的美德</tspan><tspan x="2247.7" dy="16.3">。</tspan></text></g>
<g id="p4s4c"><text class="t" y="4041.8"><tspan x="2247.7">3、要求学生严格认真的按照实验要求来操作</tspan><tspan x="2247.7" dy="16.3">，细心观察、发现问题、提出问题、解决问题</tspan><tspan x="2247.7" dy="16.3">，培养他们严谨的科学态度。</tspan></text></g>
<g id="p4s4d"><text class="t" y="4130.8"><tspan x="2247.7">4、培养学生井然有序的工作习惯。实验结束</tspan><tspan x="2247.7" dy="16.3">后，把仪器放回原处，整理好实验台，填写好</tspan><tspan x="2247.7" dy="16.3">实验记录。</tspan></text></g>
<g id="related"><rect class="b" x="1487" y="4412" width="311" height="60" rx="28"/><text class="t l1" y="4432"><tspan x="1515.5">生物老师教育教学工作计划相关文</tspan><tspan x="1515.5" dy="21.6">章：</tspan></text></g>
<g id="r1"><text class="t" x="1829.3" y="4219">★ 生物老师教学工作计划5篇</text></g>
<g id="r2"><text class="t" x="1829.3" y="4274.8">★ 高三生物教师教学工作计划5篇</text></g>
<g id="r3"><text class="t" x="1829.3" y="4331">★ 生物老师教学目标工作计划5篇</text></g>
<g id="r4"><text class="t" x="1829.3" y="4386.6">★ 生物教学实用工作计划整理5篇</text></g>
<g id="r5"><text class="t" x="1829.3" y="4442.2">★ 2021生物课程教学工作计划范文</text></g>
<g id="r6"><text class="t" x="1829.3" y="4498.5">★ 人教版生物教学计划5篇</text></g>
<g id="r7"><text class="t" x="1829.3" y="4554">★ 新学期生物教学工作计划【五篇】</text></g>
<g id="r8"><text class="t" x="1829.3" y="4609.6">★ 生物教学工作计划表2021</text></g>
<g id="r9"><text class="t" x="1829.3" y="4665.9">★ 开学生物教学工作计划2021</text></g>
<g id="watermark">
<text class="wm" transform="translate(650 515) rotate(-30)">树图 shutu.cn</text>
<text class="wm" transform="translate(650 1515) rotate(-30)">树图 shutu.cn</text>
<text class="wm" transform="translate(650 2515) rotate(-30)">树图 shutu.cn</text>
<text class="wm" transform="translate(650 3515) rotate(-30)">树图 shutu.cn</text>
<text class="wm" transform="translate(650 4515) rotate(-30)">树图 shutu.cn</text>
<text class="wm" transform="translate(650 5515) rotate(-30)">树图 shutu.cn</text>
<text class="wm" transform="translate(650 6515) rotate(-30)">树图 shutu.cn</text>
<text class="wm" transform="translate(1925 495) rotate(-30)">树图 shutu.cn</text>
<text class="wm" transform="translate(1925 1495) rotate(-30)">树图 shutu.cn</text>
<text class="wm" transform="translate(1925 2495) rotate(-30)">树图 shutu.cn</text>
<text class="wm" transform="translate(1925 3495) rotate(-30)">树图 shutu.cn</text>
<text class="wm" transform="translate(1925 4495) rotate(-30)">树图 shutu.cn</text>
<text class="wm" transform="translate(1925 5495) rotate(-30)">树图 shutu.cn</text>
<text class="wm" transform="translate(1925 6495) rotate(-30)">树图 shutu.cn</text>
</g>
</svg>
